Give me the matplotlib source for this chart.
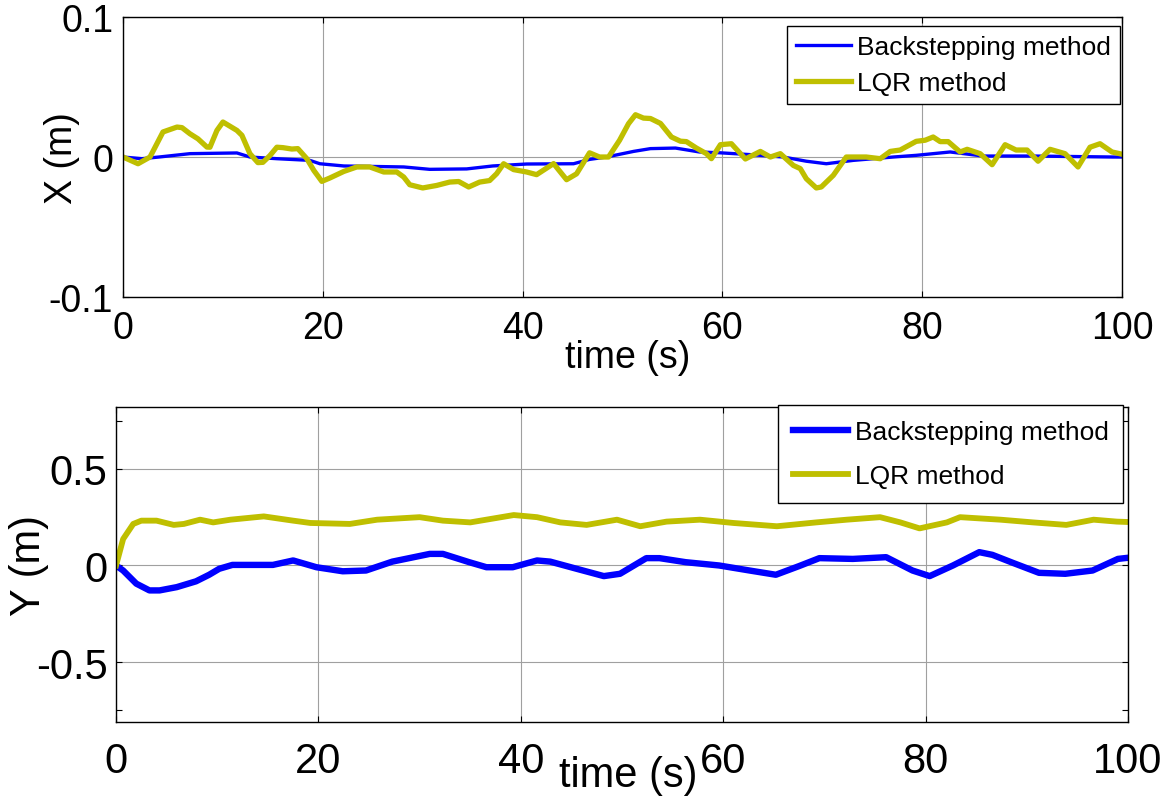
import matplotlib
matplotlib.use("Agg")
import matplotlib.pyplot as plt

# ---- data ----
t_x_bs = [0, 1.9, 3.6, 6.7, 11.4, 12.7, 15.4, 18.7, 19.7, 22.1,
          28.1, 30.7, 34.4, 37.0, 40.4, 45.1, 46.7, 48.4, 51.1, 52.8,
          55.3, 57.7, 59.8, 62.8, 66.1, 68.4, 70.4, 73.1, 77.1, 79.4,
          82.8, 86.1, 91.1, 99.1, 100]
x_bs = [0, -0.0012, 0, 0.0024, 0.0029, 0, -0.0012, -0.0024, -0.0048, -0.0064,
        -0.0071, -0.0088, -0.0085, -0.0064, -0.005, -0.0048, -0.0017, 0, 0.004, 0.006,
        0.0064, 0.0036, 0.003, 0.0017, 0, -0.003, -0.0048, -0.0024, 0, 0.0012,
        0.0036, 0.0007, 0.0007, 0, 0]

t_x_lqr = [0, 1.5, 2.7, 4, 5.4, 5.9, 6.7, 7.5, 8.4, 8.7,
           9.4, 10.0, 10.7, 11.4, 11.9, 12.7, 13.5, 14.0, 14.7, 15.4,
           16.0, 16.9, 17.5, 18.4, 19.1, 19.9, 20.7, 22.1, 23.4, 24.7,
           26.1, 27.4, 28.1, 28.7, 30.0, 31.4, 32.7, 33.6, 34.6, 35.7,
           36.7, 37.4, 38.1, 39.1, 40.4, 41.4, 43.1, 44.4, 45.4, 46.7,
           47.7, 48.6, 49.7, 50.6, 51.3, 52.1, 52.8, 53.8, 54.9, 55.8,
           56.4, 57.4, 58.4, 58.9, 59.8, 60.9, 62.3, 63.8, 64.8, 65.8,
           67.1, 67.8, 68.4, 69.4, 69.9, 71.1, 72.4, 74.4, 75.8, 76.8,
           77.8, 79.4, 80.3, 81.1, 81.8, 82.6, 83.8, 84.5, 85.8, 87.0,
           88.3, 89.4, 90.5, 91.6, 92.8, 94.3, 95.6, 96.8, 97.8, 99.0,
           100]
x_lqr = [0, -0.0048, 0, 0.0179, 0.0214, 0.021, 0.0166, 0.013, 0.0071, 0.007,
         0.019, 0.025, 0.022, 0.019, 0.0155, 0.0024, -0.004, -0.0038, 0.001, 0.007,
         0.0067, 0.0057, 0.006, -0.0012, -0.0096, -0.0174, -0.015, -0.0103, -0.0071, -0.0071,
         -0.0107, -0.0107, -0.0143, -0.0198, -0.0221, -0.0203, -0.0179, -0.0175, -0.0214, -0.0179,
         -0.0168, -0.0119, -0.0048, -0.009, -0.0107, -0.0126, -0.0047, -0.0162, -0.012, 0.003,
         0.0, 0.0, 0.0119, 0.0238, 0.0302, 0.0278, 0.0275, 0.024, 0.0143, 0.0113,
         0.011, 0.0064, 0.0024, -0.0012, 0.0088, 0.0095, -0.0014, 0.004, 0.0, 0.0024,
         -0.006, -0.0083, -0.0155, -0.0221, -0.0214, -0.0131, 0.0, 0.0, -0.0012, 0.004,
         0.005, 0.0112, 0.012, 0.0143, 0.011, 0.011, 0.0036, 0.0055, 0.0024, -0.0055,
         0.0088, 0.005, 0.005, -0.003, 0.0055, 0.0024, -0.0071, 0.007, 0.0095, 0.0036,
         0.002]

t_y_bs = [0, 0.7, 2.0, 3.3, 4.3, 6.0, 7.9, 9.2, 10.2, 11.5,
          15.5, 17.5, 19.8, 22.4, 24.7, 27.3, 31.0, 32.3, 34.9, 36.6,
          39.2, 41.6, 42.9, 45.5, 48.2, 49.8, 52.4, 53.7, 56.3, 59.6,
          62.6, 65.2, 67.5, 69.5, 72.8, 76.1, 78.7, 80.4, 82.7, 85.3,
          86.6, 88.6, 91.2, 93.8, 96.5, 99.0, 100]
y_bs = [0, -0.026, -0.094, -0.129, -0.129, -0.112, -0.082, -0.048, -0.017, 0.003,
        0.003, 0.026, -0.009, -0.03, -0.026, 0.02, 0.06, 0.06, 0.017, -0.009,
        -0.009, 0.026, 0.02, -0.017, -0.055, -0.043, 0.038, 0.038, 0.017, 0.0,
        -0.026, -0.048, -0.003, 0.038, 0.034, 0.043, -0.026, -0.055, 0.0, 0.069,
        0.055, 0.014, -0.038, -0.043, -0.026, 0.034, 0.04]

t_y_lqr = [0, 0.7, 1.7, 2.5, 4.0, 5.7, 6.7, 8.3, 9.6, 11.3,
           14.6, 17.5, 19.2, 23.1, 25.8, 30.0, 32.3, 35.0, 39.3, 41.6,
           43.9, 46.5, 49.5, 51.8, 54.4, 57.7, 61.0, 65.3, 69.2, 72.2,
           75.5, 77.5, 79.4, 82.1, 83.4, 87.4, 90.6, 93.9, 96.6, 98.9,
           100]
y_lqr = [0, 0.137, 0.215, 0.232, 0.232, 0.21, 0.215, 0.237, 0.223, 0.237,
         0.254, 0.232, 0.22, 0.215, 0.237, 0.25, 0.232, 0.223, 0.261, 0.25,
         0.223, 0.21, 0.237, 0.203, 0.227, 0.237, 0.22, 0.203, 0.223, 0.237,
         0.25, 0.223, 0.192, 0.223, 0.25, 0.237, 0.223, 0.21, 0.237, 0.227,
         0.225]

x_ticks = [0, 20, 40, 60, 80, 100]
labels = ["Backstepping method", "LQR method"]

BLUE = "#0000ff"
OLIVE = "#bfbf00"
GRID = "#a0a0a0"

plt.rcParams["font.family"] = ["Liberation Sans", "DejaVu Sans"]


def style_axes(ax, size, xpad, ypad):
    ax.set_xlim(0, 100)
    ax.set_xticks(x_ticks)
    ax.tick_params(direction="in", top=True, right=True, length=4, width=0.8,
                   labelsize=size)
    ax.tick_params(axis="x", pad=xpad)
    ax.tick_params(axis="y", pad=ypad)
    for s in ax.spines.values():
        s.set_linewidth(1.0)
        s.set_color("black")
    ax.grid(True, color=GRID, linewidth=0.8)


def add_legend(ax, anchor, size, lspace, bpad, hlen):
    leg = ax.legend(loc="upper right", bbox_to_anchor=anchor, fontsize=size,
                    handlelength=hlen, labelspacing=lspace, borderpad=bpad,
                    handletextpad=0.25, borderaxespad=0, fancybox=False,
                    framealpha=1, edgecolor="black")
    leg.get_frame().set_linewidth(1.0)
    return leg


fig = plt.figure(figsize=(11.64, 8.12), dpi=100)

# ---- top: X ----
ax1 = fig.add_axes([0.1057, 0.633, 0.8582, 0.3448])
ax1.plot(t_x_bs, x_bs, color=BLUE, linewidth=2.4, label=labels[0])
ax1.plot(t_x_lqr, x_lqr, color=OLIVE, linewidth=3.8, label=labels[1])
ax1.set_ylim(-0.1, 0.1)
ax1.set_yticks([-0.1, 0, 0.1])
ax1.set_yticklabels(["-0.1", "0", "0.1"])
style_axes(ax1, 27, 9, 7)
ax1.set_xlabel("time (s)", fontsize=27)
ax1.xaxis.set_label_coords(0.505, -0.15)
ax1.set_ylabel("X (m)", fontsize=27)
ax1.yaxis.set_label_coords(-0.043, 0.5)
add_legend(ax1, (0.998, 0.968), 19, 0.45, 0.34, 2.05)

# ---- bottom: Y ----
ax2 = fig.add_axes([0.0997, 0.1096, 0.8694, 0.3879])
ax2.plot(t_y_bs, y_bs, color=BLUE, linewidth=4.6, label=labels[0])
ax2.plot(t_y_lqr, y_lqr, color=OLIVE, linewidth=4.2, label=labels[1])
ax2.set_ylim(-0.81, 0.82)
ax2.set_yticks([-0.5, 0, 0.5])
ax2.set_yticklabels(["-0.5", "0", "0.5"])
ax2.set_yticks([-0.75, 0.75], minor=True)
ax2.tick_params(which="minor", direction="in", right=True, length=4, width=0.8)
style_axes(ax2, 30, 14, 6)
ax2.set_xlabel("time (s)", fontsize=30)
ax2.xaxis.set_label_coords(0.506, -0.105)
ax2.set_ylabel("Y (m)", fontsize=30)
ax2.yaxis.set_label_coords(-0.066, 0.5)
add_legend(ax2, (0.995, 1.005), 19, 0.76, 0.55, 2.1)

fig.savefig("out.png", dpi=100)
